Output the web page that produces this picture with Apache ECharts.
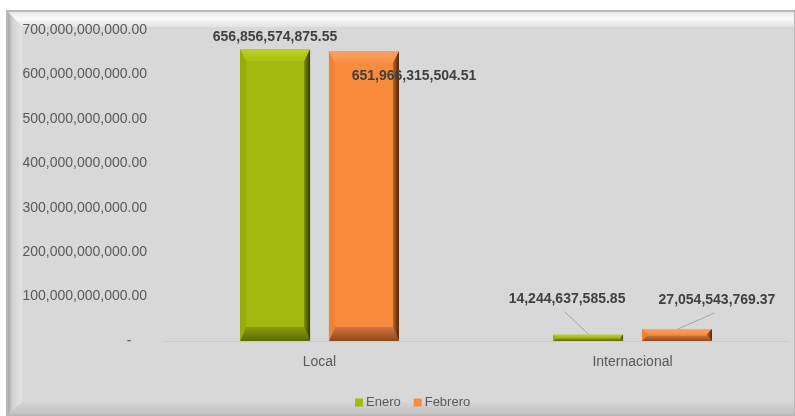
<!DOCTYPE html>
<html><head><meta charset="utf-8">
<script src="https://cdn.jsdelivr.net/npm/echarts@6/dist/echarts.min.js"></script>
<style>html,body{margin:0;padding:0;background:#fff}#c{width:795px;height:416px}</style>
</head><body><div id="c"></div>
<script>
var categories = ['Local', 'Internacional'];
var seriesNames = ['Enero', 'Febrero'];
var enero = [656856574875.55, 14244637585.85];
var febrero = [651966315504.51, 27054543769.37];
var yTicks = [0, 100000000000, 200000000000, 300000000000, 400000000000, 500000000000, 600000000000, 700000000000];

var FONT = '"Liberation Sans", Arial, sans-serif';
var BAR_W = 70, BAR_GAP = 0.27;
var baseColors = ['#a3b90f', '#f98b3d'];
// bevel palettes per series
var bevelPal = [
  {top:'#bdd21f', topIn:'#aac013', botA:'#8a9d0c', botB:'#5c6a05', left:'#97ad0b', rA:'#7f9008', rB:'#323b00'},
  {top:'#fca062', topIn:'#fb9047', botA:'#d3743a', botB:'#8f4a1a', left:'#ef8236', rA:'#c0642a', rB:'#4e2408'}
];
function fmt(v){ return v.toLocaleString('en-US',{minimumFractionDigits:2, maximumFractionDigits:2}); }

// label offsets (dx, dy) per series / category
var labelMoves = [
  [[0,0],[-21,-24]],
  [[50,37],[40,-17]]
];

// overlay items: [categoryIndex, value, seriesIndex]
var barItems = [];
enero.forEach(function(v,i){ barItems.push([i, v, 0]); });
febrero.forEach(function(v,i){ barItems.push([i, v, 1]); });

function barX(centerX, si){
  var half = (BAR_W + BAR_GAP*BAR_W)/2;
  return centerX + (si === 0 ? -half : half);
}
function lin(x,y,x2,y2,a,b){ return {type:'linear',x:x,y:y,x2:x2,y2:y2,colorStops:[{offset:0,color:a},{offset:1,color:b}]}; }

var option = {
  backgroundColor:'#ffffff',
  animation:false,
  graphic:[
    {type:'rect', z:-10, shape:{x:6,y:10,width:789,height:406}, style:{fill:'#b8b8b8'}},
    {type:'rect', z:-9, shape:{x:8,y:12,width:786,height:402}, style:{fill:'#d9d8d8'}},
    {type:'polygon', z:-8, shape:{points:[[8,12],[794,12],[794,27],[22,27]]},
      style:{fill:{type:'linear',x:0,y:0,x2:0,y2:1,colorStops:[{offset:0,color:'#e6e6e6'},{offset:0.4,color:'#fbfbfb'},{offset:1,color:'#e2e2e2'}]}}},
    {type:'polygon', z:-7, shape:{points:[[8,12],[22,27],[22,402],[8,414]]},
      style:{fill:{type:'linear',x:0,y:0,x2:1,y2:0,colorStops:[{offset:0,color:'#a8a8a8'},{offset:0.35,color:'#d4d4d4'},{offset:1,color:'#e2e2e2'}]}}},
    {type:'polygon', z:-7, shape:{points:[[8,414],[22,402],[794,402],[794,414]]},
      style:{fill:{type:'linear',x:0,y:0,x2:0,y2:1,colorStops:[{offset:0,color:'#d4d4d4'},{offset:1,color:'#c2c2c2'}]}}}
  ],
  legend:{
    data:seriesNames, left:350, top:391, icon:'rect', itemWidth:8, itemHeight:8, itemGap:13, itemStyle:{borderWidth:0},
    textStyle:{color:'#595959', fontFamily:FONT, fontSize:13, padding:[0,0,0,-2]}
  },
  grid:{left:163, right:6, top:30, bottom:75, containLabel:false},
  xAxis:{
    type:'category', data:categories,
    axisLine:{lineStyle:{color:'#cbcbcb'}}, axisTick:{show:false},
    axisLabel:{color:'#595959', fontFamily:FONT, fontSize:14, margin:14}
  },
  yAxis:{
    type:'value', min:yTicks[0], max:yTicks[yTicks.length-1], interval:yTicks[1]-yTicks[0],
    axisLine:{show:false}, axisTick:{show:false}, splitLine:{show:false},
    axisLabel:{color:'#595959', fontFamily:FONT, fontSize:14, margin:16,
      formatter:function(v){ return v===0 ? '-    ' : fmt(v); }}
  },
  series:[
    {name:seriesNames[0], type:'bar', z:2, data:enero, barWidth:BAR_W, barGap:(BAR_GAP*100)+'%',
     itemStyle:{color:baseColors[0]}},
    {name:seriesNames[1], type:'bar', z:2, data:febrero, barWidth:BAR_W, barGap:(BAR_GAP*100)+'%',
     itemStyle:{color:baseColors[1]}},
    {name:'bevel', type:'custom', data:barItems, silent:true, z:5,
     encode:{x:0, y:1},
     renderItem:function(params, api){
       var top = api.coord([api.value(0), api.value(1)]);
       var bot = api.coord([api.value(0), 0]);
       var si = api.value(2), pal = bevelPal[si];
       var cx = barX(top[0], si);
       var x0 = cx - BAR_W/2, x1 = cx + BAR_W/2, y0 = top[1], y1 = bot[1];
       var h = y1 - y0;
       var bt = Math.min(12, h*0.4), bb = Math.min(14, h*0.45), bs = Math.min(6, h*0.4);
       return {type:'group', children:[
         {type:'polygon', shape:{points:[[x0,y0],[x1,y0],[x1-bs,y0+bt],[x0+bs,y0+bt]]},
          style:{fill:lin(0,0,0,1,pal.top,pal.topIn)}},
         {type:'polygon', shape:{points:[[x0,y1],[x1,y1],[x1-bs,y1-bb],[x0+bs,y1-bb]]},
          style:{fill:lin(0,0,0,1,pal.botA,pal.botB)}},
         {type:'polygon', shape:{points:[[x0,y0],[x0+bs,y0+bt],[x0+bs,y1-bb],[x0,y1]]},
          style:{fill:pal.left}},
         {type:'polygon', shape:{points:[[x1,y0],[x1-bs,y0+bt],[x1-bs,y1-bb],[x1,y1]]},
          style:{fill:lin(0,0,1,0,pal.rA,pal.rB)}}
       ]};
     }
    },
    {name:'labels', type:'custom', data:barItems, silent:true, z:8,
     encode:{x:0, y:1},
     renderItem:function(params, api){
       var cat = api.value(0), val = api.value(1), si = api.value(2);
       var top = api.coord([cat, val]);
       var bx = barX(top[0], si);
       var m = labelMoves[si][cat];
       var children = [
         {type:'text', z2:10, style:{text:fmt(val), x:bx + m[0], y:top[1] - 5 + m[1],
           align:'center', verticalAlign:'bottom', fill:'#404040',
           fontFamily:FONT, fontSize:14, fontWeight:'bold'}}
       ];
       if (cat === 1) {
         children.push({type:'line', shape:{x1:bx + m[0] - 2.5, y1:top[1] + m[1] + 1, x2:bx + 1, y2:top[1]},
           style:{stroke:'#a6a6a6', lineWidth:1}});
       }
       return {type:'group', children:children};
     }
    }
  ]
};
var chart = echarts.init(document.getElementById('c'));
chart.setOption(option);
</script></body></html>
